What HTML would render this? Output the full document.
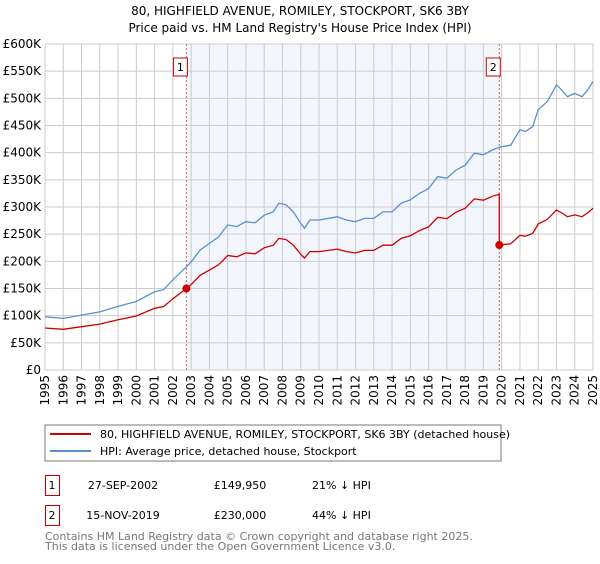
<!DOCTYPE html>
<html><head><meta charset="utf-8"><style>
body{margin:0;background:#fff;font-family:"DejaVu Sans","Liberation Sans",sans-serif;}
svg text{font-family:"DejaVu Sans","Liberation Sans",sans-serif;}
</style></head><body>
<svg id="c" width="600" height="560" xmlns="http://www.w3.org/2000/svg">
<text x="300" y="15" text-anchor="middle" font-size="12" fill="#000">80, HIGHFIELD AVENUE, ROMILEY, STOCKPORT, SK6 3BY</text>
<text x="300" y="32" text-anchor="middle" font-size="12" fill="#000">Price paid vs. HM Land Registry's House Price Index (HPI)</text>
<g id="plot"></g>
<rect x="45" y="425" width="456" height="36" fill="none" stroke="#777"/>
<line x1="50" y1="434" x2="91" y2="434" stroke="#cc0000" stroke-width="2"/>
<text x="100" y="438" font-size="11">80, HIGHFIELD AVENUE, ROMILEY, STOCKPORT, SK6 3BY (detached house)</text>
<line x1="50" y1="451" x2="91" y2="451" stroke="#5b8fd4" stroke-width="2"/>
<text x="100" y="455" font-size="11">HPI: Average price, detached house, Stockport</text>
<g>
<rect x="45.5" y="475.5" width="14" height="20" fill="none" stroke="#cc0000"/>
<text x="52" y="489" text-anchor="middle" font-size="11">1</text>
<text x="123" y="489" text-anchor="middle" font-size="11">27-SEP-2002</text>
<text x="240" y="489" text-anchor="middle" font-size="11">£149,950</text>
<text x="312" y="489" font-size="11">21% ↓ HPI</text></g>
<g>
<rect x="45.5" y="505.5" width="14" height="20" fill="none" stroke="#cc0000"/>
<text x="52" y="519" text-anchor="middle" font-size="11">2</text>
<text x="123" y="519" text-anchor="middle" font-size="11">15-NOV-2019</text>
<text x="240" y="519" text-anchor="middle" font-size="11">£230,000</text>
<text x="312" y="519" font-size="11">44% ↓ HPI</text></g>
<text x="45" y="540" font-size="11" fill="#777">Contains HM Land Registry data © Crown copyright and database right 2025.</text>
<text x="45" y="550" font-size="11" fill="#777">This data is licensed under the Open Government Licence v3.0.</text>
</svg>
<script>
const hpiYears=[1995,1996,1997,1998,1999,2000,2001,2001.5,2002,2002.74,2003,2003.5,2004,2004.5,2005,2005.5,2006,2006.5,2007,2007.5,2007.8,2008.2,2008.6,2009,2009.2,2009.5,2010,2011,2011.5,2012,2012.5,2013,2013.5,2014,2014.5,2015,2015.5,2016,2016.5,2017,2017.5,2018,2018.5,2019,2019.5,2019.87,2020,2020.5,2021,2021.3,2021.7,2022,2022.5,2023,2023.3,2023.6,2024,2024.4,2024.7,2025];
const hpiValues=[98,95,101,107,117,126,144,148,166,190,199,221,233,245,267,264,273,271,285,291,307,304,291,270,261,276,276,282,276,273,279,279,291,291,307,313,325,334,356,353,368,377,399,396,405,410,411,414,442,439,448,479,494,525,515,503,509,503,515,531];
const saleDates=[2002.74,2019.87];
const salePrices=[149950,230000];
const saleLabels=["1","2"];
const yTicks=[0,50,100,150,200,250,300,350,400,450,500,550,600];
const yTickLabels=["£0","£50K","£100K","£150K","£200K","£250K","£300K","£350K","£400K","£450K","£500K","£550K","£600K"];
const xTicks=[1995,1996,1997,1998,1999,2000,2001,2002,2003,2004,2005,2006,2007,2008,2009,2010,2011,2012,2013,2014,2015,2016,2017,2018,2019,2020,2021,2022,2023,2024,2025];

const NS="http://www.w3.org/2000/svg";
const X0=45,X1=593,Y0=370,Y1=44;
const xs=t=>X0+(t-1995)/30*(X1-X0);
const ys=v=>Y0-v/600*(Y0-Y1);
const g=document.getElementById('plot');
function mk(tag,attrs,parent){const e=document.createElementNS(NS,tag);for(const k in attrs)e.setAttribute(k,attrs[k]);(parent||g).appendChild(e);return e;}
function hpiAt(t){for(let i=0;i<hpiYears.length-1;i++){if(t>=hpiYears[i]&&t<=hpiYears[i+1]){const f=(t-hpiYears[i])/(hpiYears[i+1]-hpiYears[i]);return hpiValues[i]+f*(hpiValues[i+1]-hpiValues[i]);}}return hpiValues[hpiValues.length-1];}

const shade=mk('rect',{x:xs(saleDates[0]),y:Y1,width:xs(saleDates[1])-xs(saleDates[0]),height:Y0-Y1,fill:'#f3f6fd'});


yTicks.forEach((v,i)=>{
 const l=mk('line',{x1:X0,x2:X1,y1:ys(v),y2:ys(v),stroke:'#cccccc'});
 
 
 const t=mk('text',{x:X0-4,y:ys(v)+4,'text-anchor':'end','font-size':'12'});
 t.textContent=yTickLabels[i];
 
 
});
xTicks.forEach(yr=>{
 const l=mk('line',{x1:xs(yr),x2:xs(yr),y1:Y1,y2:Y0,stroke:'#cccccc'});
 
 
 const t=mk('text',{x:0,y:0,'text-anchor':'end','font-size':'12',transform:`translate(${xs(yr)+4},${Y0+5}) rotate(-90)`});
 t.textContent=yr;
 
 
});
const fr=mk('rect',{x:X0,y:Y1,width:X1-X0,height:Y0-Y1,fill:'none',stroke:'#cccccc'});


saleDates.forEach((d,i)=>{
 const l=mk('line',{x1:xs(d),x2:xs(d),y1:Y1,y2:Y0,stroke:'#e06060','stroke-dasharray':'2,2'});
 
 
 const r=mk('rect',{x:xs(d)-13,y:58,width:14,height:18,fill:'#fff',stroke:'#cc0000'});
 
 
 const t=mk('text',{x:xs(d)-6,y:71,'text-anchor':'middle','font-size':'11'});
 t.textContent=saleLabels[i];
 
 
});
let hp=hpiYears.map((t,i)=>`${i?'L':'M'}${xs(t).toFixed(1)},${ys(hpiValues[i]).toFixed(1)}`).join('');
const hl=mk('path',{d:hp,fill:'none',stroke:'#5b8fd4','stroke-width':1.3});


let pp='';
hpiYears.forEach((t,i)=>{
 let k=t<saleDates[1]?0:1;
 const f=salePrices[k]/1000/hpiAt(saleDates[k]);
 if(i>0&&hpiYears[i-1]<saleDates[1]&&t>=saleDates[1]){
  const f0=salePrices[0]/1000/hpiAt(saleDates[0]);
  pp+=`L${xs(saleDates[1]).toFixed(1)},${ys(hpiAt(saleDates[1])*f0).toFixed(1)}L${xs(saleDates[1]).toFixed(1)},${ys(salePrices[1]/1000).toFixed(1)}`;
 }
 pp+=`${pp?'L':'M'}${xs(t).toFixed(1)},${ys(hpiValues[i]*f).toFixed(1)}`;
});
const pl=mk('path',{d:pp,fill:'none',stroke:'#cc0000','stroke-width':1.3});


saleDates.forEach((d,i)=>{
 const c=mk('circle',{cx:xs(d),cy:ys(salePrices[i]/1000),r:4,fill:'#cc0000'});
 
 
});
</script>
</body></html>
